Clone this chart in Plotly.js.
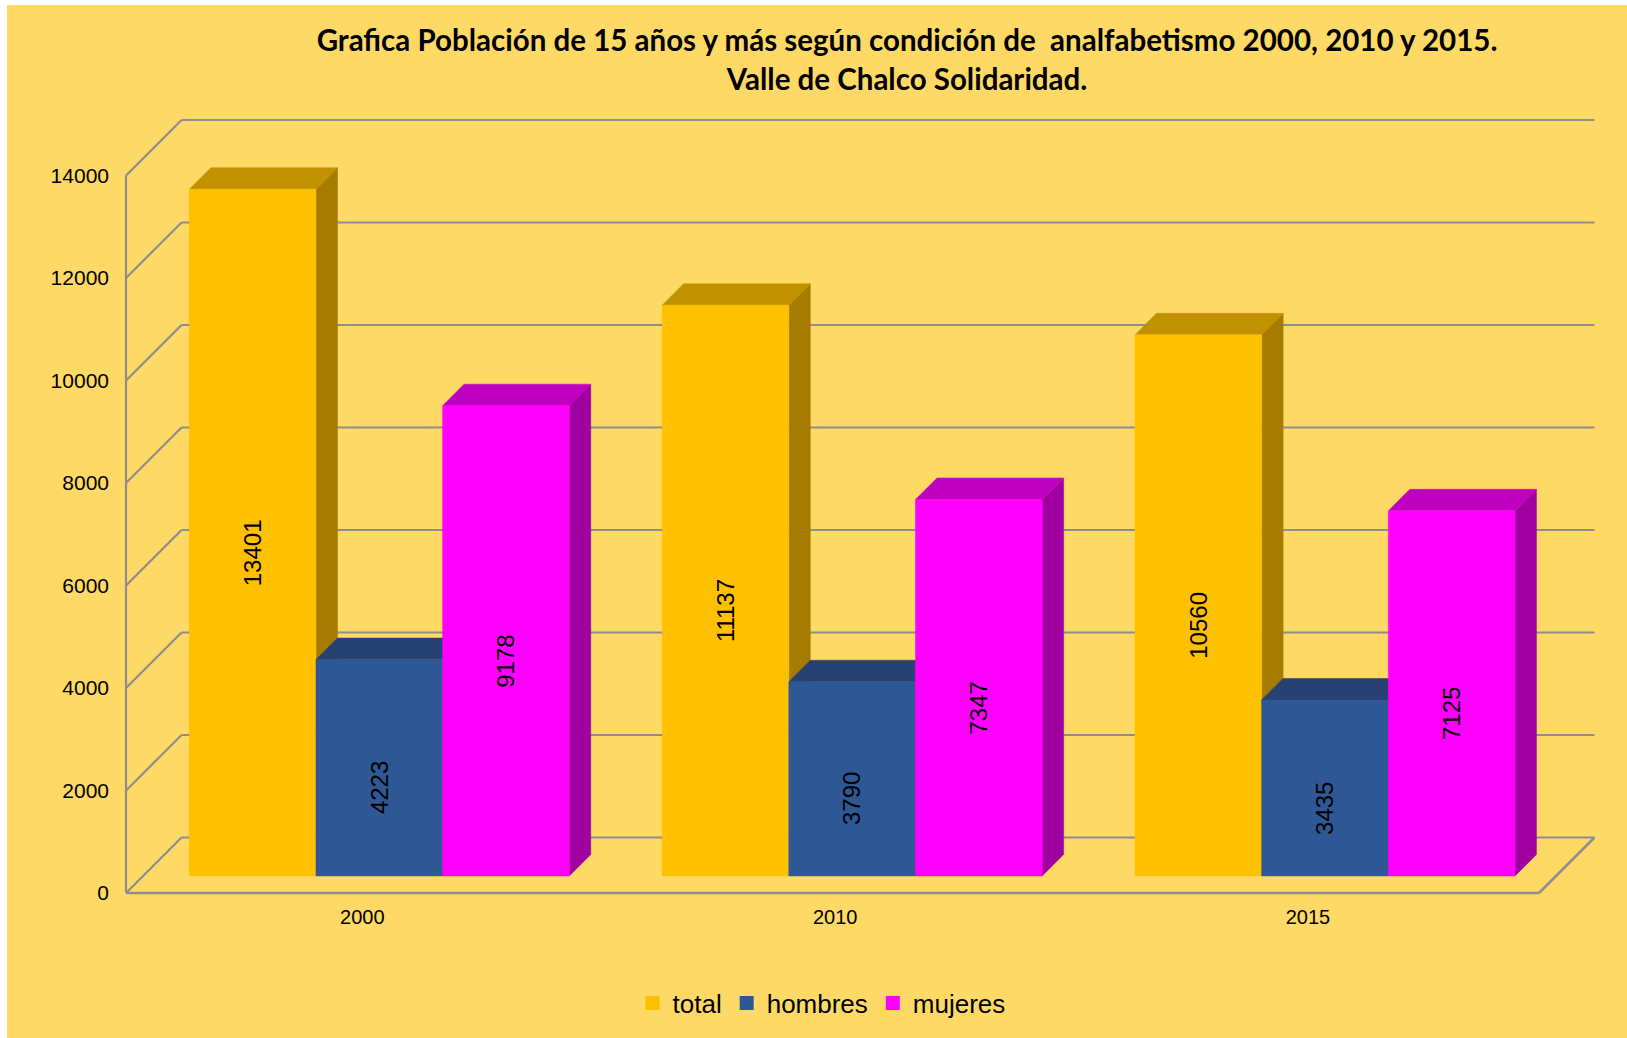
<!DOCTYPE html>
<html>
<head>
<meta charset="utf-8">
<script src="https://cdn.plot.ly/plotly-3.0.1.min.js"></script>
<style>
  html, body { margin: 0; padding: 0; background: #ffffff; }
  #chart { position: absolute; left: 7px; top: 5px; width: 1620px; height: 1033px; }
</style>
</head>
<body>
<div id="chart"></div>
<script>
// ---- data ----
const categories = ['2000', '2010', '2015'];
const seriesNames = ['total', 'hombres', 'mujeres'];
const total = [13401, 11137, 10560];
const hombres = [4223, 3790, 3435];
const mujeres = [9178, 7347, 7125];
const yTicks = [0, 2000, 4000, 6000, 8000, 10000, 12000, 14000];

// ---- styles ----
const frontColors = ['#FFC000', '#2E5796', '#FF00FF'];
const topColors   = ['#C29100', '#264172', '#C000C0'];
const sideColors  = ['#A67C00', '#1E3560', '#A000A0'];
const gridColor = '#8E8E8E';
const FONT = 'Liberation Sans, Arial, sans-serif';

// ---- pseudo-3D geometry (pixels per unit, depth offsets in px) ----
const KX = 472.85;       // px per category
const KY = 0.05125;      // px per value unit
const D_BAR_FRONT = 17, D_BAR_BACK = 38.5, D_WALL = 55.5;
const GROUP_W = 0.8036, BAR_W = GROUP_W / 3;
const WALL_LEFT = -0.4997, WALL_RIGHT = 2.4885;

function P(c, v, d) { return [c + d / KX, v + d / KY]; }

const traces = [];
function poly(pts, color) {
  const xs = pts.map(p => p[0]), ys = pts.map(p => p[1]);
  xs.push(xs[0]); ys.push(ys[0]);
  traces.push({
    type: 'scatter', mode: 'lines', x: xs, y: ys, fill: 'toself',
    fillcolor: color, line: {color: color, width: 0.5},
    showlegend: false, hoverinfo: 'skip'
  });
}

// grid / walls
const gx = [], gy = [];
function seg(a, b) { gx.push(a[0], b[0], null); gy.push(a[1], b[1], null); }
yTicks.forEach(v => {
  seg(P(WALL_LEFT, v, D_WALL), P(WALL_RIGHT, v, D_WALL));
  seg(P(WALL_LEFT, v, 0), P(WALL_LEFT, v, D_WALL));
});
seg(P(WALL_LEFT, 0, 0), P(WALL_LEFT, yTicks[yTicks.length - 1], 0));
traces.push({type: 'scatter', mode: 'lines', x: gx, y: gy,
  line: {color: gridColor, width: 2.2}, showlegend: false, hoverinfo: 'skip'});
const fx = [], fy = [];
[[P(WALL_LEFT, 0, 0), P(WALL_RIGHT, 0, 0)], [P(WALL_RIGHT, 0, 0), P(WALL_RIGHT, 0, D_WALL)]].forEach(s => {
  fx.push(s[0][0], s[1][0], null); fy.push(s[0][1], s[1][1], null);
});
traces.push({type: 'scatter', mode: 'lines', x: fx, y: fy,
  line: {color: gridColor, width: 2.6}, showlegend: false, hoverinfo: 'skip'});

// bars
const series = [total, hombres, mujeres];
const annotations = [];
categories.forEach((cat, g) => {
  series.forEach((vals, s) => {
    const v = vals[g];
    const c0 = g - GROUP_W / 2 + s * BAR_W, c1 = c0 + BAR_W;
    poly([P(c1, 0, D_BAR_FRONT), P(c1, 0, D_BAR_BACK), P(c1, v, D_BAR_BACK), P(c1, v, D_BAR_FRONT)], sideColors[s]);
    poly([P(c0, v, D_BAR_FRONT), P(c1, v, D_BAR_FRONT), P(c1, v, D_BAR_BACK), P(c0, v, D_BAR_BACK)], topColors[s]);
    poly([P(c0, 0, D_BAR_FRONT), P(c1, 0, D_BAR_FRONT), P(c1, v, D_BAR_FRONT), P(c0, v, D_BAR_FRONT)], frontColors[s]);
    const pc = P((c0 + c1) / 2, v / 2, D_BAR_FRONT);
    annotations.push({x: pc[0], y: pc[1], xref: 'x', yref: 'y', text: String(v),
      showarrow: false, textangle: -90, yshift: -20,
      font: {family: FONT, size: 24, color: '#000000'}});
  });
});

// legend entries
seriesNames.forEach((n, s) => {
  traces.push({type: 'scatter', mode: 'markers', x: [null], y: [null], name: n,
    marker: {symbol: 'square', size: 14, color: frontColors[s]}, hoverinfo: 'skip'});
});

const layout = {
  width: 1620, height: 1033,
  paper_bgcolor: '#FFD966', plot_bgcolor: 'rgba(0,0,0,0)',
  margin: {l: 113, r: 27, t: 104, b: 137},
  title: {
    text: 'Grafica Población de 15 años y más según condición de  analfabetismo 2000, 2010 y 2015.<br>Valle de Chalco Solidaridad.',
    font: {family: 'Lato, sans-serif', size: 29.5, color: '#000000', weight: 'bold'},
    x: 0.5318, xanchor: 'center', xref: 'paper', y: 0.955, yanchor: 'middle', yref: 'container'
  },
  xaxis: {
    range: [-0.51243, 2.61755], showgrid: false, zeroline: false, showline: false,
    tickvals: categories.map((c, i) => i), ticktext: categories, ticks: '',
    tickfont: {family: FONT, size: 20, color: '#000000'}, ticklabelstandoff: 2, fixedrange: true
  },
  yaxis: {
    range: [-156.1, 15297.6], showgrid: false, zeroline: false, showline: false,
    tickvals: yTicks, ticktext: yTicks.map(String), ticks: '',
    tickfont: {family: FONT, size: 21, color: '#000000'}, ticklabelstandoff: 10, fixedrange: true
  },
  showlegend: true,
  legend: {orientation: 'h', x: 0.474, xanchor: 'center', y: -0.1288, yanchor: 'middle',
    font: {family: FONT, size: 26, color: '#000000'}, bgcolor: 'rgba(0,0,0,0)'},
  annotations: annotations
};

Plotly.newPlot('chart', traces, layout, {displayModeBar: false, staticPlot: true});
</script>
</body>
</html>
